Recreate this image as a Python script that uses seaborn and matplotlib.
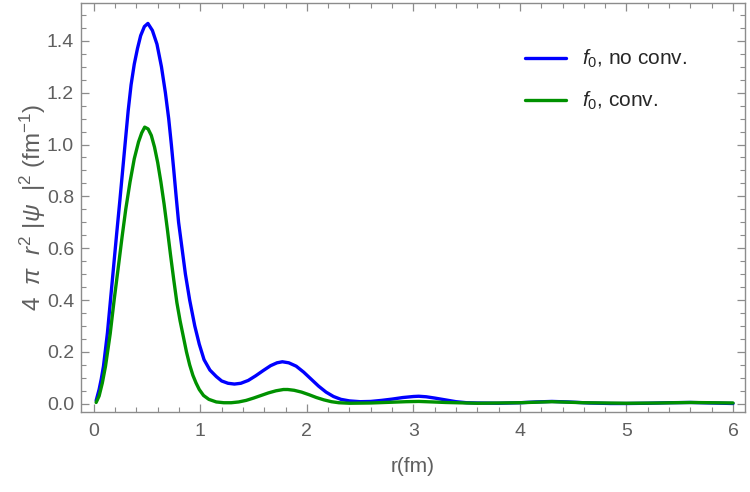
import pandas as pd
import matplotlib.pyplot as plt
import matplotlib.ticker as mticker
import seaborn as sns

# values
r_noconv = [0.022, 0.05, 0.07, 0.091, 0.128, 0.157, 0.186, 0.215, 0.245, 0.294,
            0.323, 0.35, 0.38, 0.41, 0.44, 0.475, 0.508, 0.55, 0.593, 0.635,
            0.672, 0.703, 0.728, 0.751, 0.773, 0.796, 0.828, 0.86, 0.90, 0.948,
            0.99, 1.035, 1.09, 1.15, 1.2, 1.26, 1.32, 1.38, 1.45, 1.52,
            1.59, 1.66, 1.72, 1.77, 1.83, 1.9, 1.97, 2.04, 2.11, 2.18,
            2.25, 2.32, 2.4, 2.5, 2.6, 2.7, 2.8, 2.9, 3.0, 3.05,
            3.12, 3.2, 3.3, 3.4, 3.5, 3.6, 3.8, 4.0, 4.15, 4.3,
            4.45, 4.65, 4.85, 5.0, 5.2, 5.4, 5.6, 5.8, 6.0]
f0_noconv = [0.012, 0.055, 0.095, 0.145, 0.273, 0.401, 0.529, 0.657, 0.785, 1.003,
             1.131, 1.23, 1.31, 1.37, 1.42, 1.455, 1.467, 1.44, 1.387, 1.30,
             1.2, 1.1, 1.0, 0.9, 0.8, 0.7, 0.6, 0.5, 0.4, 0.3,
             0.23, 0.17, 0.13, 0.105, 0.088, 0.079, 0.076, 0.079, 0.09, 0.108,
             0.128, 0.147, 0.158, 0.162, 0.158, 0.145, 0.122, 0.095, 0.068, 0.045,
             0.028, 0.017, 0.011, 0.008, 0.009, 0.013, 0.018, 0.024, 0.028, 0.029,
             0.027, 0.022, 0.015, 0.008, 0.004, 0.003, 0.002, 0.004, 0.007, 0.009,
             0.007, 0.003, 0.001, 0.001, 0.002, 0.004, 0.005, 0.003, 0.001]

r_conv = [0.022, 0.05, 0.08, 0.11, 0.154, 0.191, 0.231, 0.266, 0.30, 0.34,
          0.38, 0.42, 0.45, 0.478, 0.51, 0.54, 0.57, 0.6, 0.63, 0.66,
          0.69, 0.72, 0.75, 0.78, 0.81, 0.84, 0.87, 0.9, 0.93, 0.96,
          0.99, 1.03, 1.08, 1.15, 1.22, 1.29, 1.36, 1.43, 1.5, 1.57,
          1.64, 1.71, 1.78, 1.82, 1.88, 1.95, 2.02, 2.09, 2.16, 2.23,
          2.3, 2.4, 2.6, 2.8, 2.93, 3.05, 3.18, 3.3, 3.6, 4.0,
          4.3, 4.6, 5.0, 5.3, 5.6, 6.0]
f0_conv = [0.005, 0.03, 0.08, 0.145, 0.27, 0.4, 0.53, 0.645, 0.75, 0.855,
           0.945, 1.01, 1.045, 1.067, 1.06, 1.035, 0.99, 0.93, 0.855, 0.77,
           0.675, 0.575, 0.48, 0.39, 0.32, 0.26, 0.2, 0.15, 0.11, 0.08,
           0.055, 0.032, 0.017, 0.007, 0.004, 0.004, 0.007, 0.013, 0.022, 0.032,
           0.042, 0.05, 0.055, 0.055, 0.052, 0.045, 0.035, 0.024, 0.015, 0.008,
           0.004, 0.002, 0.003, 0.006, 0.008, 0.009, 0.007, 0.005, 0.002, 0.004,
           0.008, 0.004, 0.002, 0.003, 0.005, 0.003]

labels = [r"$f_0$, no conv.", r"$f_0$, conv."]
colors = ["#0000ff", "#009100"]

df = pd.concat([
    pd.DataFrame({"r": r_noconv, "val": f0_noconv, "series": labels[0]}),
    pd.DataFrame({"r": r_conv, "val": f0_conv, "series": labels[1]}),
])

sns.set_style("ticks")
plt.rcParams["font.family"] = ["Liberation Sans", "DejaVu Sans"]
plt.rcParams["mathtext.fontset"] = "custom"
plt.rcParams["mathtext.rm"] = "Liberation Sans"
plt.rcParams["mathtext.it"] = "Liberation Sans:italic"

axis_gray = "#8c8c8c"
text_gray = "#5f5f5f"

fig = plt.figure(figsize=(7.5, 4.92), dpi=100)
ax = fig.add_axes([0.108, 0.163, 0.885, 0.831])

sns.lineplot(data=df, x="r", y="val", hue="series", palette=colors,
             linewidth=2.4, ax=ax, estimator=None, sort=True)

ax.set_xlim(-0.12, 6.11)
ax.set_ylim(-0.031, 1.546)

ax.xaxis.set_major_locator(mticker.MultipleLocator(1))
ax.xaxis.set_minor_locator(mticker.MultipleLocator(0.2))
ax.yaxis.set_major_locator(mticker.MultipleLocator(0.2))
ax.yaxis.set_minor_locator(mticker.MultipleLocator(0.05))
ax.xaxis.set_major_formatter(mticker.FormatStrFormatter("%d"))
ax.yaxis.set_major_formatter(mticker.FormatStrFormatter("%.1f"))

ax.tick_params(which="both", direction="in", top=True, right=True,
               color=axis_gray, labelcolor=text_gray, labelsize=14)
ax.tick_params(which="major", length=6, width=0.9)
ax.tick_params(which="minor", length=3.5, width=0.8)
ax.tick_params(axis="x", which="major", pad=8)
ax.tick_params(axis="y", which="major", pad=5)
for sp in ax.spines.values():
    sp.set_color(axis_gray)
    sp.set_linewidth(1.0)

ax.set_xlabel("r(fm)", color=text_gray, fontsize=15, labelpad=12)
ax.set_ylabel(r"4  $\pi$  $r^2$ |$\psi$  |$^2$ (fm$^{-1}$)", color=text_gray,
              fontsize=17.5, labelpad=-1)

leg = ax.legend(loc="upper left", bbox_to_anchor=(0.669, 0.89), frameon=False,
                borderpad=0, borderaxespad=0,
                fontsize=15, handlelength=1.97, labelspacing=0.95, handletextpad=0.77)
for line in leg.get_lines():
    line.set_linewidth(2.4)

fig.savefig("out.png", dpi=100)
